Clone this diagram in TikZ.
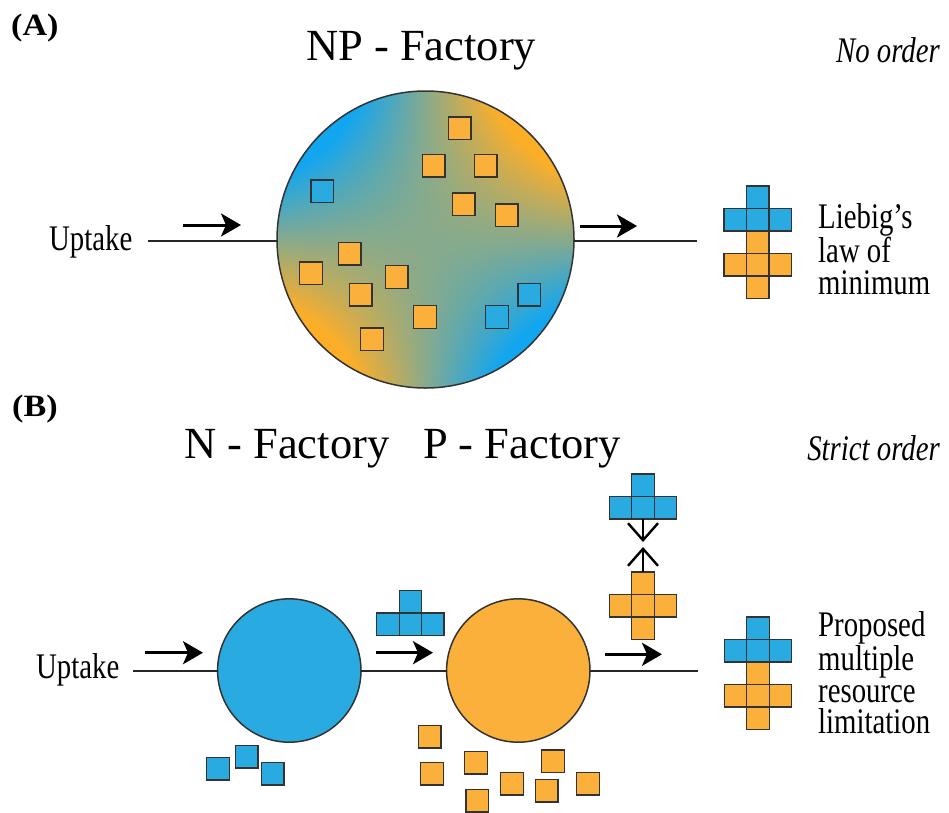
\documentclass[tikz,border=0pt]{standalone}
\usepackage{fontspec}
\setmainfont{Liberation Serif}
\newfontfamily\labfont{Liberation Serif}[FakeStretch=0.8]
\newfontfamily\panfont{Liberation Serif}[FakeStretch=1.1]
\usetikzlibrary{arrows.meta,shapes.geometric,shadings}
\definecolor{nblue}{HTML}{29ABE2}
\definecolor{porange}{HTML}{FBB03B}
\definecolor{edge}{HTML}{333333}
% saddle-shaped blue/orange gradient: blue top-left & bottom-right, orange top-right & bottom-left
\pgfdeclarefunctionalshading{npsaddle}{\pgfpoint{-50bp}{-50bp}}{\pgfpoint{50bp}{50bp}}{}{
  mul 0.0019 mul 0.5 add
  dup 0 lt {pop 0} if dup 1 gt {pop 1} if
  dup dup
  -0.784 mul 0.941 add
  3 1 roll
  0.031 mul 0.651 add
  exch
  0.921 mul 0.071 add
  3 1 roll exch
}
\begin{document}
\begin{tikzpicture}[x=1pt,y=-1pt,
  sq/.style={draw=edge,line width=1.4pt,minimum size=22.6pt,inner sep=0pt,outer sep=0pt},
  bsq/.style={sq,fill=nblue},
  osq/.style={sq,fill=porange},
  bcell/.style={sq,minimum size=22.5pt,line width=1.2pt,fill=nblue},
  ocell/.style={sq,minimum size=22.5pt,line width=1.2pt,fill=porange},
  factory/.style={circle,draw=edge,line width=1.5pt,inner sep=0pt,outer sep=0pt},
  flow/.style={line width=2pt,draw=black!85},
  dirarrow/.style={line width=3pt,-{Stealth[length=20pt,width=23pt,inset=5pt]}},
  meetarrow/.style={line width=2.4pt,-{Straight Barb[length=17pt,width=30pt]}},
  lab/.style={font={\labfont\fontsize{36}{31.5}\selectfont},inner sep=0pt,align=left},
  tit/.style={font={\fontsize{44.5}{50}\selectfont},inner sep=0pt},
  pan/.style={font={\panfont\bfseries\fontsize{31}{33}\selectfont},inner sep=0pt},
  ord/.style={font={\labfont\itshape\fontsize{36}{31.5}\selectfont},inner sep=0pt}
]
\useasboundingbox (0,0) rectangle (949,812);

% ---------------- Panel A ----------------
\node[pan,anchor=base west] (pA) at (11,35) {(A)};
\node[tit,anchor=base west] (tNP) at (306,60) {NP - Factory};
\node[ord,anchor=base east] (noord) at (940,62) {No order};
\node[lab,anchor=base west] (upA) at (49,250) {Uptake};

\node[factory,minimum size=297pt,shading=npsaddle] (np) at (425.5,239.5) {};

\coordinate (lA0) at (148,240.5);
\coordinate (lA1) at (697,240.5);
\draw[flow] (lA0) -- (np.west |- lA0);
\draw[flow] (np.east |- lA1) -- (lA1);

\coordinate (aA0) at (183,225);
\coordinate (aA1) at (241,225);
\draw[dirarrow] (aA0) -- (aA1);
\coordinate (aA2) at (580,226);
\coordinate (aA3) at (637,226);
\draw[dirarrow] (aA2) -- (aA3);

% squares in NP factory
\node[osq] (a1) at (459.8,128.3) {};
\node[osq] (a2) at (433.8,165.5) {};
\node[osq] (a3) at (485.8,165.5) {};
\node[osq] (a4) at (463.7,204.3) {};
\node[osq] (a5) at (506.7,215.2) {};
\node[osq] (a6) at (349.7,253.5) {};
\node[osq] (a7) at (311,273.2) {};
\node[osq] (a8) at (396.7,277) {};
\node[osq] (a9) at (360.7,294.7) {};
\node[osq] (a10) at (425,317) {};
\node[osq] (a11) at (372,339.3) {};
\node[bsq] (a12) at (322.2,191.3) {};
\node[bsq] (a13) at (529.3,294.7) {};
\node[bsq] (a14) at (496.9,317) {};

% Liebig cross
\node[bcell] (lb1) at (757.7,197.25) {};
\node[bcell] (lb2) at (735.2,219.75) {};
\node[bcell] (lb3) at (757.7,219.75) {};
\node[bcell] (lb4) at (780.2,219.75) {};
\node[ocell] (lo1) at (757.7,242.25) {};
\node[ocell] (lo2) at (735.2,264.75) {};
\node[ocell] (lo3) at (757.7,264.75) {};
\node[ocell] (lo4) at (780.2,264.75) {};
\node[ocell] (lo5) at (757.7,287.25) {};
\node[lab,anchor=base west] (liebig) at (818,294.2) {Liebig’s\\law of\\minimum};

% ---------------- Panel B ----------------
\node[pan,anchor=base west] (pB) at (12,416) {(B)};
\node[tit,anchor=base west] (tN) at (184,458) {N - Factory};
\node[tit,anchor=base east] (tP) at (621,458) {P - Factory};
\node[ord,anchor=base east] (strict) at (940,460) {Strict order};
\node[lab,anchor=base west] (upB) at (36,678) {Uptake};

\node[factory,minimum size=143.4pt,fill=nblue] (nf) at (289.3,670.5) {};
\node[factory,minimum size=143.4pt,fill=porange] (pf) at (518.3,670.5) {};

\coordinate (lB0) at (133,670.5);
\coordinate (lB1) at (697.5,670.5);
\draw[flow] (lB0) -- (nf.west);
\draw[flow] (nf.east) -- (pf.west);
\draw[flow] (pf.east) -- (lB1);

\coordinate (aB0) at (145,652.7);
\coordinate (aB1) at (203,652.7);
\draw[dirarrow] (aB0) -- (aB1);
\coordinate (aB2) at (376,652.7);
\coordinate (aB3) at (433,652.7);
\draw[dirarrow] (aB2) -- (aB3);
\coordinate (aB4) at (605,654.3);
\coordinate (aB5) at (662,654.3);
\draw[dirarrow] (aB4) -- (aB5);

% T between factories
\node[bcell,minimum size=22.4pt] (mt1) at (410.3,601.7) {};
\node[bcell,minimum size=22.4pt] (mt2) at (387.9,624.1) {};
\node[bcell,minimum size=22.4pt] (mt3) at (410.3,624.1) {};
\node[bcell,minimum size=22.4pt] (mt4) at (432.7,624.1) {};

% upper T and plus above P factory
\node[bcell] (ub1) at (643,485.25) {};
\node[bcell] (ub2) at (620.5,507.75) {};
\node[bcell] (ub3) at (643,507.75) {};
\node[bcell] (ub4) at (665.5,507.75) {};
\node[ocell] (uo1) at (643,583.25) {};
\node[ocell] (uo2) at (620.5,605.75) {};
\node[ocell] (uo3) at (643,605.75) {};
\node[ocell] (uo4) at (665.5,605.75) {};
\node[ocell] (uo5) at (643,628.25) {};
\coordinate (mB) at (643,542);
\coordinate (mO) at (643,547);
\draw[meetarrow] (ub3.south) -- (mB);
\draw[meetarrow] (uo1.north) -- (mO);

% right cross
\node[bcell] (rb1) at (758,628.25) {};
\node[bcell] (rb2) at (735.5,650.75) {};
\node[bcell] (rb3) at (758,650.75) {};
\node[bcell] (rb4) at (780.5,650.75) {};
\node[ocell] (ro1) at (758,673.25) {};
\node[ocell] (ro2) at (735.5,695.75) {};
\node[ocell] (ro3) at (758,695.75) {};
\node[ocell] (ro4) at (780.5,695.75) {};
\node[ocell] (ro5) at (758,718.25) {};
\node[lab,anchor=base west] (proposed) at (818,733.5) {Proposed\\multiple\\resource\\limitation};

% released squares
\node[bsq] (b1) at (218,768.7) {};
\node[bsq] (b2) at (246.7,756.5) {};
\node[bsq] (b3) at (272.7,773.7) {};
\node[osq] (o1) at (429.7,736.7) {};
\node[osq] (o2) at (432,773.7) {};
\node[osq] (o3) at (476,762.5) {};
\node[osq] (o4) at (477.3,800.8) {};
\node[osq] (o5) at (512,783.7) {};
\node[osq] (o6) at (553,761.3) {};
\node[osq] (o7) at (546.7,790.7) {};
\node[osq] (o8) at (588,783.7) {};
\end{tikzpicture}
\end{document}
